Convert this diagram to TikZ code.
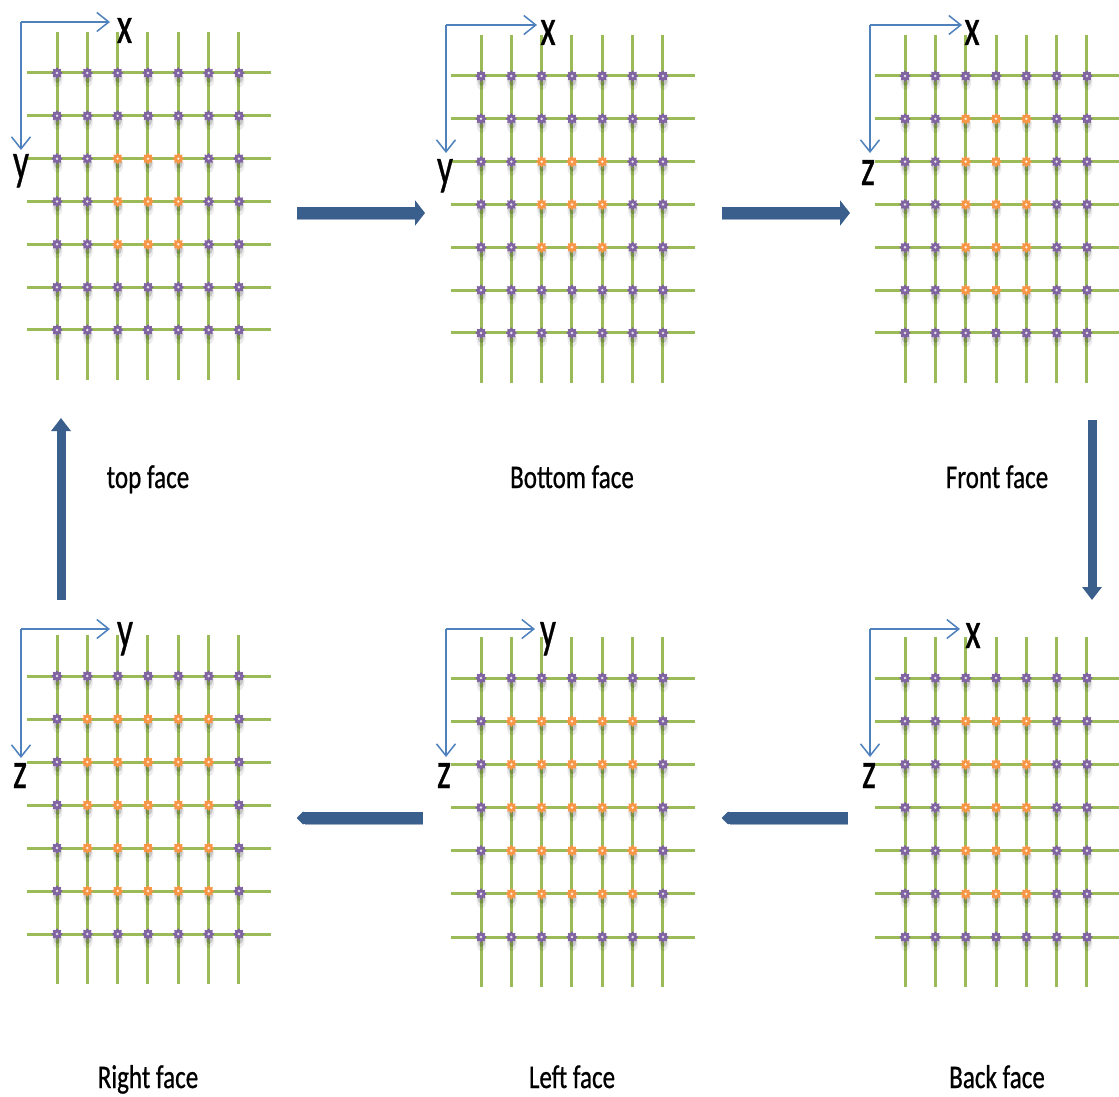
\documentclass[tikz,border=0pt]{standalone}
\usepackage{fontspec}
\setmainfont{Carlito}
\newfontface\heavyface{Carlito}[FakeBold=0.8]
\usetikzlibrary{arrows.meta}

\definecolor{gridgreen}{HTML}{9BBB59}
\definecolor{dotpurple}{HTML}{8064A2}
\definecolor{dotorange}{HTML}{F79646}
\definecolor{axisblue}{HTML}{4F81BD}
\definecolor{flowblue}{HTML}{3A5F8C}
\definecolor{flowshade}{HTML}{9DADC4}

\tikzset{
  gridline/.style={gridgreen, line width=3pt},
  axisarrow/.style={axisblue, line width=1.8pt,
    -{Straight Barb[length=12pt 0, width=19pt 0, line width=1.5pt]}},
  axlab/.style={anchor=base, inner sep=0pt, font=\heavyface\fontsize{52}{52}\selectfont},
  facelab/.style={anchor=base, inner sep=0pt, font=\heavyface\fontsize{33}{33}\selectfont},
  flowarrow/.style={flowblue, line width=12pt,
    -{Triangle[length=10pt 0, width=25pt 0]}},
  flowarrowsmall/.style={flowblue, line width=12pt,
    -{Triangle[length=8pt 0, width=15pt 0, round]}},
  flowarrowvert/.style={flowblue, line width=9pt,
    -{Triangle[length=13pt 0, width=19pt 0]}},
  pics/gear/.style={code={
    % soft drop shadow below the lattice point
    \fill[black, opacity=0.08] (0.5,6) ellipse (5 and 8);
    \fill[black, opacity=0.16] (0.5,4.5) ellipse (3.8 and 5.5);
    % eight-toothed marker with a light centre
    \fill[#1] (0:5.8) \foreach \a in {22.5,45,...,337.5}
      { -- (\a:{ifthenelse(mod(\a,45)==0,5.8,4.0)}) } -- cycle;
    \fill[white, opacity=0.8] (0,0) circle (1.4);
  }}
}

% one face: lattice origin x0, y0, row step, orange rows from/to, orange columns from/to
\newcommand{\facegrid}[7]{%
  \foreach \c in {0,...,6}
    \draw[gridline] ({#1+\c*30.33},{#2-41}) -- ({#1+\c*30.33},{#2+6*#3+50});
  \foreach \r in {0,...,6}
    \draw[gridline] ({#1-30},{#2+\r*#3}) -- ({#1+214},{#2+\r*#3});
  \foreach \r in {0,...,6} {
    \foreach \c in {0,...,6} {
      \def\dc{dotpurple}%
      \ifnum\r<#4\else\ifnum\r>#5\else\ifnum\c<#6\else\ifnum\c>#7\else
        \def\dc{dotorange}\fi\fi\fi\fi
      \pic at ({#1+\c*30.33},{#2+\r*#3}) {gear=\dc};
    }
  }
}

\begin{document}
\begin{tikzpicture}[x=1pt, y=-1pt]
  \useasboundingbox (0,0) rectangle (1119,1097);
  \fill[white] (0,0) rectangle (1119,1097);

  % ---- lattices of the six faces ----
  \facegrid{57}{73}{42.83}{2}{4}{2}{4}
  \facegrid{481}{76}{42.83}{2}{4}{2}{4}
  \facegrid{905}{76}{42.83}{1}{5}{2}{4}
  \facegrid{57}{676}{43}{1}{5}{1}{5}
  \facegrid{481}{678}{43.17}{1}{5}{1}{5}
  \facegrid{905}{678}{43.17}{1}{5}{2}{4}

  % ---- axis frames ----
  \coordinate (o1) at (21,22);   \coordinate (h1) at (110,22);  \coordinate (v1) at (21,150);
  \coordinate (o2) at (446,25);  \coordinate (h2) at (537,25);  \coordinate (v2) at (446,153);
  \coordinate (o3) at (870,25);  \coordinate (h3) at (962,25);  \coordinate (v3) at (870,153);
  \coordinate (o4) at (21,629);  \coordinate (h4) at (110,629); \coordinate (v4) at (21,758);
  \coordinate (o5) at (446,629); \coordinate (h5) at (535,629); \coordinate (v5) at (446,757);
  \coordinate (o6) at (870,629); \coordinate (h6) at (960,629); \coordinate (v6) at (870,757);
  \foreach \i in {1,...,6} {
    \draw[axisarrow] (o\i) -- (h\i);
    \draw[axisarrow] (o\i) -- (v\i);
  }

  \node[axlab] (ax1h) at (124.5,43) {\scalebox{0.68}[1]{x}};
  \node[axlab] (ax1v) at (21,179)   {\scalebox{0.68}[1]{y}};
  \node[axlab] (ax2h) at (548,45)   {\scalebox{0.68}[1]{x}};
  \node[axlab] (ax2v) at (445,184)  {\scalebox{0.68}[1]{y}};
  \node[axlab] (ax3h) at (972,45)   {\scalebox{0.68}[1]{x}};
  \node[axlab] (ax3v) at (868,185)  {\scalebox{0.68}[1]{z}};
  \node[axlab] (ax4h) at (125,647)  {\scalebox{0.68}[1]{y}};
  \node[axlab] (ax4v) at (20,788)   {\scalebox{0.68}[1]{z}};
  \node[axlab] (ax5h) at (548,647)  {\scalebox{0.68}[1]{y}};
  \node[axlab] (ax5v) at (444,788)  {\scalebox{0.68}[1]{z}};
  \node[axlab] (ax6h) at (973,648)  {\scalebox{0.68}[1]{x}};
  \node[axlab] (ax6v) at (869,788)  {\scalebox{0.68}[1]{z}};

  % ---- face names ----
  \node[facelab] (top)    at (148,488)  {\scalebox{0.76}[1]{top face}};
  \node[facelab] (bottom) at (572,488)  {\scalebox{0.76}[1]{Bottom face}};
  \node[facelab] (front)  at (997,488)  {\scalebox{0.76}[1]{Front face}};
  \node[facelab] (right)  at (148,1088) {\scalebox{0.76}[1]{Right face}};
  \node[facelab] (left)   at (572,1088) {\scalebox{0.76}[1]{Left face}};
  \node[facelab] (back)   at (997,1088) {\scalebox{0.76}[1]{Back face}};

  % ---- order of the faces ----
  \coordinate (a1s) at (297,213);  \coordinate (a1e) at (425,213);
  \coordinate (a2s) at (722,213);  \coordinate (a2e) at (850,213);
  \coordinate (a3s) at (1092,420); \coordinate (a3e) at (1092,600);
  \coordinate (a4s) at (848,818);  \coordinate (a4e) at (722,818);
  \coordinate (a5s) at (423,818);  \coordinate (a5e) at (297,818);
  \coordinate (a6s) at (61,600);   \coordinate (a6e) at (61,418);

  \foreach \s/\e in {a1s/a1e, a2s/a2e}
    \draw[flowshade, line width=2pt] ([yshift=-5.5pt]\s) -- ([yshift=-5.5pt,xshift=-10pt]\e);
  \foreach \s/\e in {a4s/a4e, a5s/a5e}
    \draw[flowshade, line width=2pt] ([yshift=-5.5pt]\s) -- ([yshift=-5.5pt,xshift=8pt]\e);

  \draw[flowarrow] (a1s) -- (a1e);
  \draw[flowarrow] (a2s) -- (a2e);
  \draw[flowarrowvert] (a3s) -- (a3e);
  \draw[flowarrowsmall] (a4s) -- (a4e);
  \draw[flowarrowsmall] (a5s) -- (a5e);
  \draw[flowarrowvert] (a6s) -- (a6e);
\end{tikzpicture}
\end{document}
